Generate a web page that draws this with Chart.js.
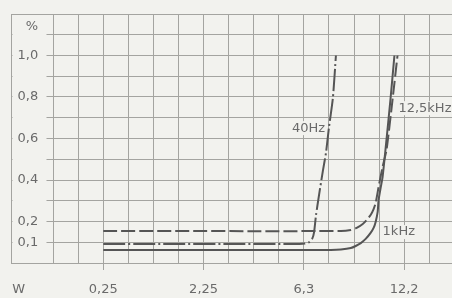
<!DOCTYPE html>
<html><head><meta charset="utf-8">
<script src="https://cdn.jsdelivr.net/npm/chart.js@4/dist/chart.umd.min.js"></script>
<style>html,body{margin:0;padding:0;background:#f2f2ee;}canvas{display:block;}</style>
</head><body>
<canvas id="c" width="452" height="298"></canvas>
<script>
// Output power in W (x) and distortion in % (y)
const power40Hz = [0.25, 6.02, 6.31, 6.52, 6.67, 6.77, 6.87, 7.03, 7.24, 7.40, 7.56, 7.78, 7.95];
const thd40Hz   = [0.092, 0.092, 0.094, 0.101, 0.116, 0.149, 0.231, 0.328, 0.448, 0.530, 0.651, 0.795, 1.0];
const power1kHz = [0.25, 7.67, 8.23, 8.81, 9.10, 9.41, 9.71, 10.02, 10.21, 10.34, 10.47, 10.53, 10.66, 10.79, 10.98, 11.31, 11.58];
const thd1kHz   = [0.063, 0.063, 0.065, 0.072, 0.082, 0.096, 0.116, 0.145, 0.169, 0.198, 0.246, 0.304, 0.361, 0.414, 0.545, 0.786, 1.0];
const power12k5 = [0.25, 8.23, 8.81, 9.16, 9.53, 9.77, 10.02, 10.21, 10.34, 10.53, 10.79, 11.05, 11.45, 11.79];
const thd12k5   = [0.154, 0.154, 0.159, 0.169, 0.188, 0.207, 0.231, 0.260, 0.289, 0.366, 0.463, 0.545, 0.786, 1.0];

const xTickPowers = [0.25, 2.25, 6.3, 12.2];
const xTickLabels = ['0,25', '2,25', '6,3', '12,2'];
const xUnitLabel = 'W';
const yTickValues = [0.1, 0.2, 0.4, 0.6, 0.8, 1.0];
const yTickLabels = ['0,1', '0,2', '0,4', '0,6', '0,8', '1,0'];
const yUnitLabel = '%';

const BG = '#f2f2ee';
const GRID = '#a4a4a0';
const INK = '#555555';
const TEXT = '#6a6a6a';
const FONT = {family: 'DejaVu Sans', size: 13};

const curveLabels = [
  {text: '40Hz', power: 7.35, value: 0.65, align: 'right'},
  {text: '12,5kHz', power: 11.85, value: 0.746, align: 'left'},
  {text: '1kHz', power: 10.79, value: 0.149, align: 'left'}
];

// x axis is linear in sqrt(W) (grid every 0.25)
const pts = (p, v) => p.map((w, i) => ({x: Math.sqrt(w), y: v[i]}));
const xGrid = [];
for (let i = 0; i <= 15; i++) xGrid.push(i * 0.25);
const yGrid = [];
for (let i = 0; i <= 12; i++) yGrid.push(i / 10);
const W_POS = -0.345, PCT_POS = 1.137;
const near = (a, b) => Math.abs(a - b) < 0.03;
const xLabelFor = v => { if (near(v, W_POS)) return xUnitLabel; const i = xTickPowers.findIndex(p => near(Math.sqrt(p), v)); return i >= 0 ? xTickLabels[i] : ''; };
const yLabelFor = v => { if (Math.abs(v - PCT_POS) < 1e-6) return yUnitLabel; const i = yTickValues.findIndex(p => Math.abs(p - v) < 1e-6); return i >= 0 ? yTickLabels[i] : ''; };

const coverPlugin = {
  id: 'cover',
  beforeDatasetsDraw(chart) {
    const {ctx, chartArea: a} = chart;
    ctx.save(); ctx.fillStyle = BG;
    ctx.fillRect(a.left + 1, a.top + 2, 34, a.bottom - a.top - 4);
    ctx.restore();
  }
};
const labelPlugin = {
  id: 'curveLabels',
  afterDatasetsDraw(chart) {
    const {ctx, scales: {x, y}} = chart;
    ctx.save();
    ctx.font = FONT.size + 'px "' + FONT.family + '"';
    ctx.textBaseline = 'middle';
    curveLabels.forEach(l => {
      const px = x.getPixelForValue(Math.sqrt(l.power)), py = y.getPixelForValue(l.value);
      const w = ctx.measureText(l.text).width;
      const left = l.align === 'right' ? px - w : px;
      ctx.fillStyle = BG; ctx.fillRect(left - 1, py - 7, w + 2, 14);
      ctx.fillStyle = TEXT; ctx.textAlign = 'left';
      ctx.fillText(l.text, left, py);
    });
    ctx.restore();
  }
};

new Chart(document.getElementById('c'), {
  type: 'line',
  data: {
    datasets: [
      {label: '40Hz', data: pts(power40Hz, thd40Hz), borderColor: INK, borderWidth: 2, borderDash: [22, 3, 2, 3]},
      {label: '1kHz', data: pts(power1kHz, thd1kHz), borderColor: INK, borderWidth: 2},
      {label: '12,5kHz', data: pts(power12k5, thd12k5), borderColor: INK, borderWidth: 2, borderDash: [14, 4]}
    ]
  },
  options: {
    responsive: false, animation: false, devicePixelRatio: 1,
    layout: {padding: {left: 8, top: 14, right: 0, bottom: 0}},
    elements: {point: {radius: 0}, line: {tension: 0.2, fill: false}},
    plugins: {legend: {display: false}, tooltip: {enabled: false}},
    scales: {
      x: {
        type: 'linear', min: -0.4155, max: 3.977,
        afterBuildTicks: s => { s.ticks = [{value: W_POS}].concat(xGrid.map(v => ({value: v}))); },
        afterFit: s => { s.height = 35; },
        grid: {
          color: c => (c.tick && c.tick.value < 0) ? 'rgba(0,0,0,0)' : GRID,
          tickColor: c => (c.tick && c.tick.value >= 0 && xLabelFor(c.tick.value)) ? GRID : 'rgba(0,0,0,0)',
          tickLength: 7, lineWidth: 1
        },
        border: {color: GRID},
        ticks: {autoSkip: false, maxRotation: 0, color: TEXT, font: FONT, padding: 12, callback: v => xLabelFor(v)}
      },
      y: {
        type: 'linear', min: 0, max: 1.2,
        afterBuildTicks: s => { s.ticks = yGrid.map(v => ({value: v})).concat([{value: PCT_POS}]); },
        afterFit: s => { s.width = 0; },
        grid: {color: c => (c.tick && Math.abs(c.tick.value - PCT_POS) < 1e-6) ? 'rgba(0,0,0,0)' : GRID, drawTicks: false, lineWidth: 1},
        border: {color: GRID},
        ticks: {mirror: true, crossAlign: 'far', padding: 6, z: 1, color: TEXT, font: FONT, autoSkip: false, callback: v => yLabelFor(v)}
      }
    }
  },
  plugins: [coverPlugin, labelPlugin]
});
</script>
</body></html>
